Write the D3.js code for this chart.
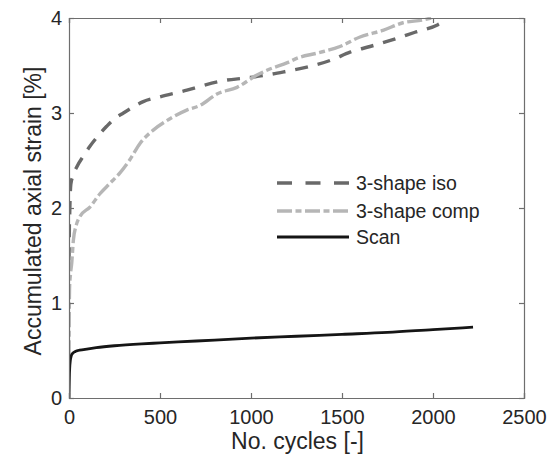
<!DOCTYPE html>
<html>
<head>
<meta charset="utf-8">
<script src="https://cdn.jsdelivr.net/npm/d3@7"></script>
<style>
  html, body { margin: 0; padding: 0; background: #fff; }
  svg text { font-family: "Liberation Sans", Arial, sans-serif; fill: #262626; }
</style>
</head>
<body>
<svg id="chart" width="554" height="457"></svg>
<script>
// Accumulated axial strain vs. number of load cycles
const isoCycles = [0, 1, 2, 4, 6, 10, 20, 42, 80, 115, 160, 207, 250, 299, 408, 500, 648, 720, 846, 978, 1088, 1198, 1324, 1445, 1544, 1654, 1775, 1901, 2027, 2055];
const isoStrain = [1.45, 1.6, 1.8, 1.95, 2.1, 2.25, 2.33, 2.43, 2.55, 2.65, 2.76, 2.86, 2.94, 3.0, 3.12, 3.17, 3.24, 3.28, 3.34, 3.37, 3.40, 3.44, 3.49, 3.56, 3.64, 3.70, 3.77, 3.85, 3.93, 3.96];

const compCycles = [0, 1, 3, 8, 15, 24, 40, 60, 115, 170, 225, 280, 335, 390, 463, 555, 647, 720, 813, 923, 1033, 1100, 1200, 1258, 1363, 1489, 1599, 1725, 1835, 1945, 1990];
const compStrain = [0.45, 0.8, 1.15, 1.3, 1.42, 1.66, 1.82, 1.91, 2.01, 2.15, 2.26, 2.37, 2.51, 2.68, 2.82, 2.94, 3.03, 3.08, 3.2, 3.27, 3.40, 3.46, 3.53, 3.58, 3.63, 3.70, 3.80, 3.87, 3.95, 3.98, 4.0];

const scanCycles = [0, 1, 2, 4, 7, 12, 20, 35, 50, 80, 150, 250, 400, 500, 700, 1000, 1250, 1500, 1750, 2000, 2220];
const scanStrain = [0, 0.12, 0.22, 0.32, 0.39, 0.44, 0.47, 0.49, 0.5, 0.51, 0.53, 0.55, 0.57, 0.58, 0.6, 0.63, 0.65, 0.67, 0.69, 0.72, 0.745];

const xTicks = [0, 500, 1000, 1500, 2000, 2500];
const yTicks = [0, 1, 2, 3, 4];

const seriesNames = ["3-shape iso", "3-shape comp", "Scan"];

const svg = d3.select("#chart");
const plotLeft = 69, plotRight = 524, plotTop = 18, plotBottom = 398;

const x = d3.scaleLinear().domain([0, 2500]).range([plotLeft, plotRight]);
const y = d3.scaleLinear().domain([0, 4]).range([plotBottom, plotTop]);

const frameColor = "#6e6e6e";

// series styles: dashed, dash-dot, solid
const styles = [
  { color: "#696969", width: 3.4, dash: "13,10", legendDash: "15,13.5" },
  { color: "#b6b6b6", width: 3.4, dash: "15,3.5,6,3.5", legendDash: "15,3.5,6,3.5" },
  { color: "#151515", width: 2.8, dash: null, legendDash: null }
];

const series = [
  d3.zip(isoCycles, isoStrain),
  d3.zip(compCycles, compStrain),
  d3.zip(scanCycles, scanStrain)
];

svg.append("defs").append("clipPath").attr("id", "plotclip")
  .append("rect").attr("x", plotLeft).attr("y", plotTop - 1)
  .attr("width", plotRight - plotLeft).attr("height", plotBottom - plotTop + 1);

const line = d3.line().x(d => x(d[0])).y(d => y(d[1])).curve(d3.curveMonotoneX);

const plot = svg.append("g").attr("clip-path", "url(#plotclip)");
series.forEach((s, i) => {
  plot.append("path")
    .datum(s)
    .attr("d", line)
    .attr("fill", "none")
    .attr("stroke", styles[i].color)
    .attr("stroke-width", styles[i].width)
    .attr("stroke-dasharray", styles[i].dash)
    .attr("stroke-linejoin", "round");
});

// axes (ticks pointing inward, box frame)
const tickLen = 5;
const xAxis = svg.append("g").attr("transform", `translate(0,${plotBottom})`)
  .call(d3.axisBottom(x).tickValues(xTicks).tickSize(-tickLen).tickPadding(12).tickFormat(d3.format("d")));
const yAxis = svg.append("g").attr("transform", `translate(${plotLeft},0)`)
  .call(d3.axisLeft(y).tickValues(yTicks).tickSize(-tickLen).tickPadding(7).tickFormat(d3.format("d")));
const xTop = svg.append("g").attr("transform", `translate(0,${plotTop})`)
  .call(d3.axisTop(x).tickValues(xTicks).tickSize(-tickLen).tickFormat(""));
const yRight = svg.append("g").attr("transform", `translate(${plotRight},0)`)
  .call(d3.axisRight(y).tickValues(yTicks).tickSize(-tickLen).tickFormat(""));

[xAxis, yAxis, xTop, yRight].forEach(g => {
  g.select(".domain").attr("stroke", frameColor).attr("stroke-width", 1.2);
  g.selectAll(".tick line").attr("stroke", frameColor).attr("stroke-width", 1.2);
  g.selectAll(".tick text").attr("font-size", 20).attr("fill", "#2a2a2a")
    .attr("font-family", "Liberation Sans, Arial, sans-serif");
});

// axis titles
svg.append("text")
  .attr("x", (plotLeft + plotRight) / 2 + 1)
  .attr("y", 449)
  .attr("text-anchor", "middle")
  .attr("font-size", 23)
  .text("No. cycles [-]");

svg.append("text")
  .attr("transform", `translate(41,${(plotTop + plotBottom) / 2 + 3}) rotate(-90)`)
  .attr("text-anchor", "middle")
  .attr("font-size", 23)
  .text("Accumulated axial strain [%]");

// legend
const legY = [183, 211, 237];
const legend = svg.append("g");
seriesNames.forEach((name, i) => {
  legend.append("line")
    .attr("x1", 277).attr("x2", 349)
    .attr("y1", legY[i]).attr("y2", legY[i])
    .attr("stroke", styles[i].color)
    .attr("stroke-width", styles[i].width)
    .attr("stroke-dasharray", styles[i].legendDash);
  legend.append("text")
    .attr("x", 356)
    .attr("y", legY[i])
    .attr("dy", "0.36em")
    .attr("font-size", 19.5)
    .text(name);
});
</script>
</body>
</html>
